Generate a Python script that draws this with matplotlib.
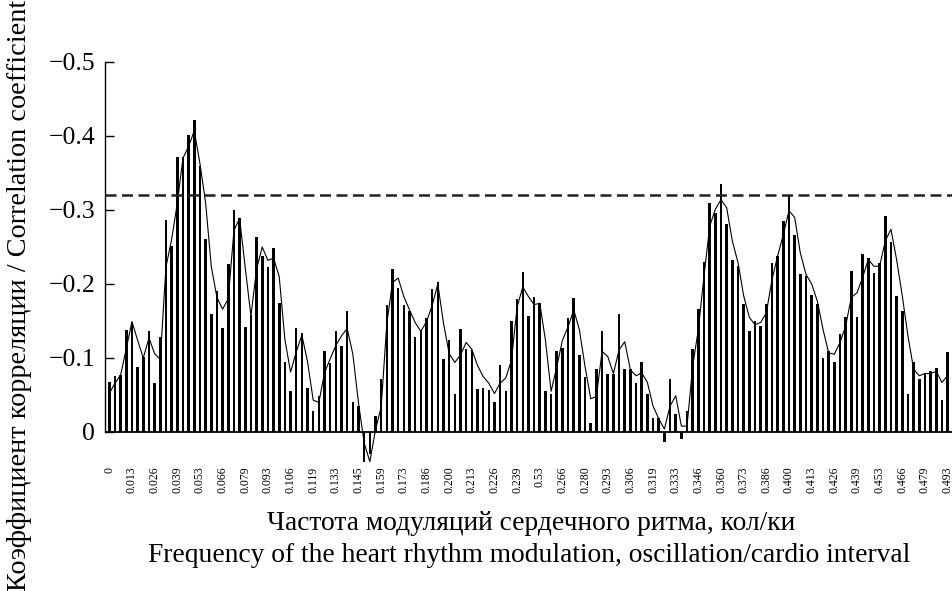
import numpy as np
import matplotlib
matplotlib.use("Agg")
import matplotlib.pyplot as plt

plt.rcParams['font.family'] = ['Liberation Serif', 'DejaVu Serif']

# подписи частот (каждый 4-й столбик)
freq_labels = ['0', '0.013', '0.026', '0.039', '0.053', '0.066', '0.079', '0.093',
               '0.106', '0.119', '0.133', '0.145', '0.159', '0.173', '0.186', '0.200',
               '0.213', '0.226', '0.239', '0.53', '0.266', '0.280', '0.293', '0.306',
               '0.319', '0.333', '0.346', '0.360', '0.373', '0.386', '0.400', '0.413',
               '0.426', '0.439', '0.453', '0.466', '0.479', '0.493']

# коэффициент корреляции для каждой частоты (столбики)
corr_bars = [-0.067, -0.076, -0.077, -0.138, -0.149, -0.088, -0.101, -0.136, -0.066, -0.128,
             -0.286, -0.252, -0.371, -0.371, -0.402, -0.421, -0.360, -0.261, -0.160, -0.191,
             -0.140, -0.227, -0.300, -0.289, -0.142, -0.158, -0.263, -0.238, -0.223, -0.249,
             -0.175, -0.095, -0.056, -0.140, -0.134, -0.060, -0.028, -0.048, -0.109, -0.093,
             -0.136, -0.116, -0.164, -0.041, -0.035, 0.041, 0.030, -0.021, -0.071, -0.172,
             -0.220, -0.195, -0.172, -0.164, -0.128, -0.136, -0.154, -0.193, -0.203, -0.099,
             -0.125, -0.052, -0.139, -0.112, -0.111, -0.058, -0.060, -0.057, -0.041, -0.090,
             -0.055, -0.150, -0.180, -0.216, -0.157, -0.183, -0.174, -0.055, -0.052, -0.109,
             -0.113, -0.154, -0.181, -0.104, -0.075, -0.012, -0.085, -0.136, -0.078, -0.078,
             -0.159, -0.085, -0.085, -0.066, -0.094, -0.051, -0.019, -0.019, 0.014, -0.071,
             -0.024, 0.009, -0.028, -0.112, -0.166, -0.230, -0.309, -0.296, -0.335, -0.281,
             -0.233, -0.224, -0.173, -0.136, -0.150, -0.143, -0.173, -0.229, -0.238, -0.285,
             -0.319, -0.266, -0.213, -0.211, -0.185, -0.173, -0.100, -0.109, -0.094, -0.133,
             -0.155, -0.218, -0.155, -0.240, -0.235, -0.215, -0.229, -0.292, -0.257, -0.184,
             -0.164, -0.052, -0.095, -0.072, -0.080, -0.082, -0.087, -0.043, -0.108]

# сглаженная кривая
corr_smooth = [-0.052, -0.066, -0.077, -0.113, -0.149, -0.124, -0.100, -0.127, -0.106, -0.098,
               -0.223, -0.260, -0.309, -0.370, -0.386, -0.407, -0.363, -0.310, -0.224, -0.182,
               -0.166, -0.180, -0.272, -0.289, -0.222, -0.157, -0.220, -0.250, -0.232, -0.235,
               -0.210, -0.125, -0.081, -0.108, -0.131, -0.095, -0.043, -0.040, -0.080, -0.099,
               -0.117, -0.130, -0.140, -0.105, -0.039, 0.015, 0.040, -0.003, -0.034, -0.147,
               -0.202, -0.208, -0.183, -0.165, -0.148, -0.136, -0.149, -0.171, -0.200, -0.147,
               -0.106, -0.094, -0.104, -0.121, -0.112, -0.090, -0.075, -0.066, -0.052, -0.066,
               -0.073, -0.097, -0.169, -0.196, -0.183, -0.172, -0.174, -0.124, -0.055, -0.088,
               -0.124, -0.142, -0.165, -0.138, -0.088, -0.045, -0.048, -0.109, -0.102, -0.079,
               -0.111, -0.122, -0.084, -0.076, -0.080, -0.067, -0.035, -0.018, -0.004, -0.035,
               -0.049, -0.008, -0.008, -0.089, -0.139, -0.211, -0.278, -0.301, -0.314, -0.303,
               -0.258, -0.229, -0.184, -0.155, -0.145, -0.148, -0.161, -0.206, -0.238, -0.267,
               -0.299, -0.290, -0.242, -0.213, -0.200, -0.177, -0.139, -0.107, -0.105, -0.121,
               -0.143, -0.182, -0.188, -0.209, -0.233, -0.224, -0.224, -0.258, -0.274, -0.233,
               -0.184, -0.130, -0.085, -0.076, -0.079, -0.079, -0.082, -0.067, -0.076]

signif_level = -0.32

y_ticks = [0, -0.1, -0.2, -0.3, -0.4, -0.5]
y_tick_labels = ['0', '\u22120.1', '\u22120.2', '\u22120.3', '\u22120.4', '\u22120.5']


def main():
    W, H = 952, 591
    fig = plt.figure(figsize=(W / 100, H / 100), dpi=100)
    ax = fig.add_axes([105 / W, 1 - 465.3 / H, 1 - 105 / W, (465.3 - 62) / H])

    x = np.arange(len(corr_bars))
    ax.bar(x, corr_bars, width=0.45, color='black', clip_on=False, zorder=2)
    ax.plot(x, corr_smooth, color='black', lw=0.8, clip_on=False, zorder=3)
    ax.axhline(0, color='black', lw=1.3, zorder=4)
    ax.axhline(signif_level, color='#222222', lw=1.8, dashes=(4.4, 2.2), zorder=4)

    ax.set_xlim(-0.76, 148.78)
    ax.set_ylim(0.045, -0.5)

    ax.set_xticks(x[::4])
    ax.set_xticklabels(freq_labels, rotation=90, fontsize=8.5)
    ax.tick_params(axis='x', length=0, pad=1)

    ax.set_yticks(y_ticks)
    ax.set_yticklabels(y_tick_labels, fontsize=18.5)
    ax.tick_params(axis='y', direction='in', length=6.5, width=1, pad=7)

    for s in ['top', 'right', 'bottom']:
        ax.spines[s].set_visible(False)
    ax.spines['left'].set_bounds(-0.5, 0)
    ax.spines['left'].set_linewidth(1)

    fig.text(20 / W, 0.5, 'Коэффициент корреляции / Correlation coefficient',
             rotation=90, ha='center', va='center', fontsize=20.3)
    fig.text(531 / W, 1 - 523 / H, 'Частота модуляций сердечного ритма, кол/ки',
             ha='center', va='center', fontsize=19.8)
    fig.text(529 / W, 1 - 555 / H,
             'Frequency of the heart rhythm modulation, oscillation/cardio interval',
             ha='center', va='center', fontsize=19.8)

    fig.savefig('out.png', dpi=100)


if __name__ == '__main__':
    main()
